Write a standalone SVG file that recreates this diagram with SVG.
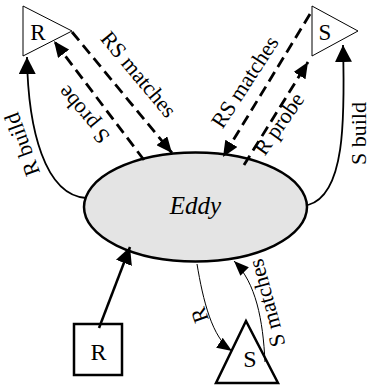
<svg xmlns="http://www.w3.org/2000/svg" width="371" height="387" viewBox="0 0 371 387">
<style>
text{font-family:"Liberation Serif","Times New Roman",serif;fill:#000}
.lbl{font-size:22px;text-anchor:middle}
.nlbl{font-size:23px;text-anchor:middle}
.thin{fill:#fff;stroke:#000;stroke-width:1}
.thick{fill:#fff;stroke:#000;stroke-width:2.5}
.dash{fill:none;stroke:#000;stroke-width:2.8;stroke-dasharray:11 6}
.solid{fill:none;stroke:#000;stroke-width:1.8}
.fine{fill:none;stroke:#000;stroke-width:1}
</style>
<defs>
<marker id="ah" markerUnits="userSpaceOnUse" viewBox="0 0 17 17" markerWidth="17" markerHeight="17" refX="17" refY="8.5" orient="auto"><path d="M0,0 L17,8.5 L0,17 z" fill="#000"/></marker>
<marker id="am" markerUnits="userSpaceOnUse" viewBox="0 0 16 14" markerWidth="16" markerHeight="14" refX="16" refY="7" orient="auto"><path d="M0,0 L16,7 L0,14 z" fill="#000"/></marker>
<marker id="as" markerUnits="userSpaceOnUse" viewBox="0 0 15 12" markerWidth="15" markerHeight="12" refX="15" refY="6" orient="auto"><path d="M0,0 L15,6 L0,12 z" fill="#000"/></marker>
</defs>
<g id="eddy">
<ellipse cx="195.5" cy="207" rx="111.5" ry="54.5" fill="#e4e4e4" stroke="#000" stroke-width="2.5"/>
<text x="195.5" y="214" style="font-size:25px;font-style:italic;text-anchor:middle">Eddy</text>
</g>
<g id="R-top">
<polygon class="thin" points="23,6 72,31 23,56"/>
<text class="nlbl" x="38" y="39.5">R</text>
</g>
<g id="S-top">
<polygon class="thin" points="312,6 358,31 312,56"/>
<text class="nlbl" x="325" y="39.5">S</text>
</g>
<g id="R-source">
<rect class="thick" x="74" y="324" width="48" height="51"/>
<text class="nlbl" x="98.5" y="359.5" style="font-size:24px">R</text>
</g>
<g id="S-bottom">
<polygon class="thick" points="246,321 278,383 216,383"/>
<text class="nlbl" x="250" y="367" style="font-size:24px">S</text>
</g>
<g id="connectors">
<path class="dash" d="M144,160 L54,41" marker-end="url(#am)"/>
<path class="dash" d="M72,32 L172,153" marker-end="url(#am)"/>
<path class="dash" d="M310,14 L223,157" marker-end="url(#am)"/>
<path class="dash" d="M244,165 L308,62" marker-end="url(#am)"/>
<path class="solid" d="M86,198 C45,195 28,130 27,57" marker-end="url(#ah)"/>
<path class="solid" d="M308,205 C345,195 345,120 343,45" marker-end="url(#ah)"/>
<path class="thick" style="fill:none" d="M99,328 L130,247" marker-end="url(#ah)"/>
<path class="fine" d="M197,264 C203,300 212,338 232,351" marker-end="url(#as)"/>
<path class="fine" d="M265,362 C263,320 256,283 234,261" marker-end="url(#as)"/>
<text class="lbl" transform="translate(133,79) rotate(50)">RS matches</text>
<text class="lbl" transform="translate(89,110) rotate(-130)">S probe</text>
<text class="lbl" transform="translate(251,86) rotate(-57)">RS matches</text>
<text class="lbl" transform="translate(285,128) rotate(-55)">R probe</text>
<text class="lbl" transform="translate(29,142) rotate(-110)">R build</text>
<text class="lbl" transform="translate(365.5,133.5) rotate(-90)">S build</text>
<text class="lbl" transform="translate(206.5,312.5) rotate(-110)">R</text>
<text class="lbl" transform="translate(274,301) rotate(-105)">S matches</text>
</g>
</svg>
